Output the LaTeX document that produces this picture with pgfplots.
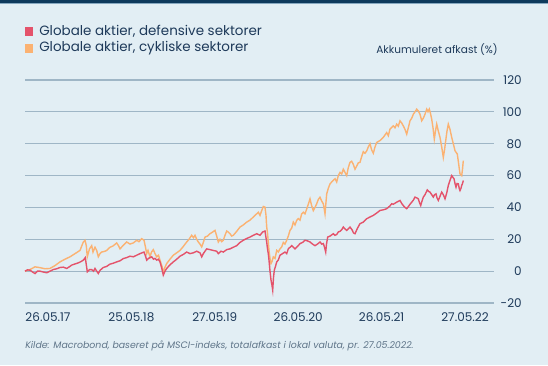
\documentclass[border=0pt]{standalone}
\usepackage{pgfplots}
\pgfplotsset{compat=1.18}
\usepackage{fontspec}
\setmainfont{Poppins}
\definecolor{bg}{HTML}{E2EEF4}
\definecolor{navy}{HTML}{0E3A5C}
\definecolor{topline}{HTML}{86A8C0}
\definecolor{txt}{HTML}{1E3A5A}
\definecolor{gridc}{HTML}{9FB6C6}
\definecolor{defc}{HTML}{E4536B}
\definecolor{cycc}{HTML}{FBB272}
\definecolor{foot}{HTML}{5F7589}
\begin{document}
\begin{tikzpicture}[x=0.75pt,y=0.75pt]
\path[use as bounding box] (0,0) rectangle (548,365);
\fill[bg] (0,0) rectangle (548,365);
\fill[navy] (0,361.5) rectangle (548,365);
\fill[topline] (0,360.5) rectangle (548,361.5);
\fill[defc] (25,329) rectangle (33,338);
\fill[cycc] (25,312) rectangle (33,321);
\node[anchor=west, inner sep=0pt, text=txt, font=\fontsize{10.1}{12}\selectfont] at (39,333.5) {Globale aktier, defensive sektorer};
\node[anchor=west, inner sep=0pt, text=txt, font=\fontsize{10.1}{12}\selectfont] at (39,317) {Globale aktier, cykliske sektorer};
\node[anchor=east, inner sep=0pt, text=txt, font=\fontsize{7.9}{9}\selectfont] at (498,315) {Akkumuleret afkast (\%)};
\node[anchor=west, inner sep=0pt, text=foot, font=\fontsize{7.05}{8}\selectfont\itshape] at (25,19) {Kilde: Macrobond, baseret på MSCI-indeks, totalafkast i lokal valuta, pr. 27.05.2022.};
\begin{axis}[
  at={(18.75pt,46.5pt)}, anchor=south west,
  scale only axis, width=351.75pt, height=167.25pt,
  xmin=25, xmax=494, ymin=-20, ymax=120,
  axis line style={draw=none},
  major tick length=0pt,
  ymajorgrids, grid style={gridc, line width=0.8pt},
  ytick={-20,0,20,40,60,80,100,120},
  xtick={48,131.4,214.8,298.2,381.6,465},
  xticklabels={26.05.17,25.05.18,27.05.19,26.05.20,26.05.21,27.05.22},
  yticklabel pos=right,
  /pgf/number format/assume math mode=true,
  ticklabel style={text=txt, font=\fontsize{9}{10}\selectfont, inner sep=0pt},
  yticklabel style={anchor=east, xshift=21pt},
  xticklabel style={anchor=center, yshift=-10.5pt},
  clip=false,
]
\addplot[cycc, line width=1.05pt] coordinates {
(25,0)(30,1)(35,2.7)(40,2.2)(45,1.5)(50,1.7)(55,3.5)(60,5.8)(65,7.5)(70,9)(75,11)(80,13)(83.3,18.3)(85,19.4)(86.3,16)(87.3,9)(89.5,14)(91.7,16)(93,12)(95,15)(96.7,13)(98.3,9)(100,11)(101.7,12)(105,12.5)(106.7,13)(110,15)(113,15.8)(116.7,17.7)(118.5,16)(120,14)(123,16)(126.7,18.3)(130,17)(133.3,17.7)(136.7,19.4)(139,18.5)(141.7,20.4)(144,19.4)(145.5,15)(146.7,11)(148,13)(150,9)(151.5,12)(153.3,13.5)(155,11)(156.7,9)(158.5,10)(160,6.9)(162,3)(163.3,-0.4)(165,2.5)(166.7,4.8)(170,7.5)(173.3,10)(176.7,11.5)(180,13)(183.3,15.5)(186.7,18.3)(189,20)(191.7,22.5)(193.5,21)(195,22.5)(196.7,20)(198.3,18.3)(200,17)(201.7,15.2)(203.3,18)(205,21.4)(207.5,22)(210,23.5)(212.5,24.5)(215,25.6)(216.7,22)(218.3,18.3)(220,20)(221.7,18.5)(223.3,19.4)(225,22.5)(226.7,25.2)(228.3,24.5)(230,23.5)(231.7,22)(233.3,22.5)(236.7,25)(240,27.7)(243.3,29)(246.7,30.8)(250,32)(253.3,34)(256.7,36)(258.3,37)(260,35)(261.7,38)(263.3,40.6)(265,40.2)(266,35)(266.7,27.7)(267.5,24)(269,13)(270,8)(271,4.8)(272,6)(273.3,9)(275,8)(276.7,13)(278.3,12)(280,14)(281.7,15.2)(283.3,18)(285,17)(286.7,19.4)(288.3,22)(290,25.6)(291.7,27)(293.3,30.8)(295,29)(296.7,31.9)(298.3,33)(300,32)(301.7,36)(303.3,37)(305,36)(306.7,39)(308.3,42)(310,45.4)(311.7,41)(313.3,38)(315,40)(316.7,42.3)(318.3,45)(320,46.4)(321.7,44)(323.3,42.3)(324.5,38)(325,36)(325.8,42)(326.7,48.5)(328.3,52)(330,54.8)(331.7,56)(333.3,57)(335,58)(336.7,56)(338.3,60)(340,62)(341.7,61)(343.3,64)(345,62)(346.7,60)(348.3,65)(350,68.3)(351.7,69)(353.3,67)(355,64)(356.7,66)(358.3,68)(360,68.3)(361.7,72)(363.3,75)(365,74)(366.7,75.5)(368.3,78)(370,80)(371.7,76)(373.3,74)(375,78)(376.7,80.8)(380,82)(383.3,84)(386.7,87)(388.3,85)(390,89.2)(393.3,91.2)(395,90)(396.7,92.3)(398.3,91)(400,94.4)(401.7,93)(403.3,91.2)(405,89)(406.7,86)(408.3,90)(410,94.4)(411.7,96)(413.3,98.5)(415,100)(416.7,101.7)(418.3,100.5)(420,98.5)(421.7,94.4)(423.3,96)(425,98.5)(426.7,101.7)(428,100)(429.3,101.7)(430.5,99)(431.7,95.4)(433,90)(434.3,82.9)(435.5,88)(436.7,92.3)(438.3,88)(440,84)(441.7,78)(443.3,71.4)(444.5,76)(445.7,81.9)(447,88)(448.3,92.3)(450,89)(451.7,84)(453.3,80)(455,75.6)(457.3,73.5)(458.5,68)(460,61)(461.7,60)(462.5,64)(463.3,69.4)
};
\addplot[defc, line width=1.05pt] coordinates {
(25,0)(27.5,0.8)(30,0.6)(32.5,-0.5)(35,-1.5)(37.5,0)(40,0)(43,-0.5)(46.7,-1)(50,0)(53.3,1)(56.7,1.5)(60,2.3)(63.3,2.5)(66.7,1.7)(70,3)(71.7,3.8)(75,4.5)(78.3,5.2)(81,6)(83.3,6.9)(85.3,8.5)(86.3,4)(87.3,-0.4)(89.5,1)(91.7,1)(93.5,0)(95,1.7)(96.7,0)(98.3,-1.5)(100,0.5)(103.3,2.3)(106.7,3)(110,4.4)(113.3,5)(116.7,5.8)(120,6.5)(123.3,7.9)(126.7,8.5)(130,9.4)(133.3,9)(136.7,10)(140,11)(144,12)(145.5,9.5)(146.7,6.9)(148.5,8)(150,8.5)(151.7,9)(153.5,7.5)(155,8)(156.7,6.9)(158.3,7.5)(160,5.8)(161.7,2)(163.3,-2.5)(165,0)(166.7,1.7)(170,4)(173.3,5.8)(176.7,7.5)(180,9.4)(183.3,10.5)(186.7,12)(190,11)(193.3,11.5)(196.7,12.5)(200,11.5)(201.7,9)(203.3,11)(206.7,14)(210,13.5)(213.3,13)(216.7,12.5)(218.3,11)(221,12.5)(223.3,12)(226.7,13.5)(230,14)(233.3,15)(236.7,16)(240,18)(243.3,19.4)(246.7,20.5)(250,21.4)(253.3,22.5)(256.7,23.5)(260,22.5)(262.5,24.5)(265,25.2)(266,21)(266.7,18.3)(267.5,14)(268.3,11)(269,6.9)(270,0)(271,-5.6)(272,-9)(272.7,-11.9)(273.5,-4)(274.3,0.6)(275.5,3)(276.7,5.8)(278.3,7)(280,10)(282.5,11)(285,12)(286.7,11)(288.3,14)(290,15)(291.7,16)(293.3,15)(295,14)(297.5,15.5)(300,17.3)(302.5,18)(305,19.4)(307.5,19)(310,18.3)(312.5,17)(315,16)(317.5,17)(320,18.3)(321.7,17)(323.3,17.3)(324.5,15)(325.7,12)(326.5,17)(327.7,21.4)(330,22)(333.3,23.5)(335,22.5)(336.7,23)(338.3,24.6)(340,25)(341.7,26)(343.3,27.7)(345,26.5)(346.7,25.6)(348.3,26.5)(350,27.7)(352,26)(353.5,24)(355,23.5)(357.5,27)(360,29.8)(363.3,30.8)(366.7,32.9)(370,34)(373.3,35)(376.7,36.5)(380,38.1)(383.3,38.5)(386.7,39.2)(390,41)(391.7,42.3)(393.3,42)(396.7,43.3)(400,44.4)(401.7,42.5)(403.3,41.2)(405,40)(406.7,39.2)(408.3,40.5)(410,42)(411.7,43.3)(413.3,44.5)(415,46.5)(416.7,46)(418.3,45.4)(419.5,43)(420.7,41.2)(422,44)(423.3,46.5)(425,48)(427.3,51)(428.7,50)(430,49.6)(431.7,48)(433.3,46.5)(434.5,48)(436,48.5)(437,46)(438.3,44.4)(440,47)(441.7,49.6)(443.3,48)(445,45.4)(446.7,49)(448.3,53.8)(450,57)(451.7,60)(452.8,59)(454,58)(455,55)(456,52.7)(457,55)(458.3,54.8)(459.2,52)(460,50.6)(461,52)(461.7,53.8)(462.5,55)(463.3,56.9)
};
\end{axis}
\end{tikzpicture}
\end{document}
